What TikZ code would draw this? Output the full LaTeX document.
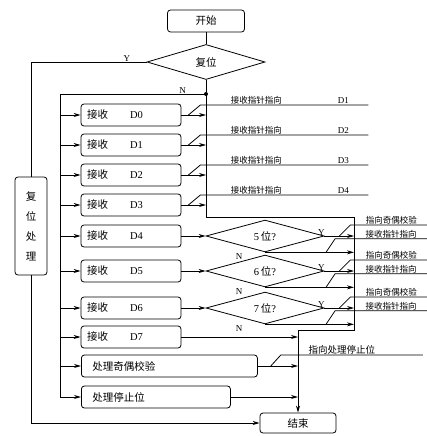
\documentclass[tikz,border=0pt]{standalone}
\usepackage{fontspec}
\setmainfont{Liberation Serif}
\newfontfamily\cjk{Noto Sans CJK SC}
\usetikzlibrary{shapes.geometric,arrows.meta}

\begin{document}
\begin{tikzpicture}[x=1pt,y=-1pt,line width=0.8pt,
    box/.style={draw,rounded corners=3pt,minimum height=22pt,inner sep=0pt,font=\fontsize{10.5}{12}\selectfont},
    dec/.style={draw,diamond,inner sep=0pt,minimum width=118pt,minimum height=29pt,font=\fontsize{10.5}{12}\selectfont},
    arr/.style={-{Stealth[length=7pt,width=4pt]}},
    lbl/.style={font=\cjk\fontsize{8.5}{10}\selectfont,inner sep=0.5pt,anchor=south},
    yn/.style={font=\fontsize{9}{10}\selectfont,inner sep=0.5pt}]

    \useasboundingbox (0,0) rectangle (427,436);

    \node[box,minimum width=77pt] (start) at (206,21) {\cjk 开始};
    \node[dec,minimum height=35pt] (rst) at (206,62) {\cjk 复位};
    \node[circle,fill,inner sep=0pt,minimum size=4pt] (dot) at (206,94) {};
    \draw (start) -- (rst);
    \draw (rst) -- (dot);

    \node[box,minimum width=32pt,minimum height=98pt,align=center,font=\cjk\fontsize{10.5}{20}\selectfont] (rproc) at (31,226) {复\\位\\处\\理};
    \node[box,minimum width=76pt,minimum height=20pt] (fin) at (298,423) {\cjk 结束};

    \draw (rst.west) -- node[yn,above,pos=0.17] (yr) {Y} (rproc.north |- rst.west) -- (rproc.north);
    \draw[arr] (rproc.south) |- (fin.west);

    % left bus
    \coordinate (lb) at (60,94);
    \draw (dot.center) -- node[yn,above,pos=0.16] (nr) {N} (lb);

    % right bus
    \coordinate (rb) at (206,217);
    \coordinate (rb2) at (354,217);
    \coordinate (rb3) at (354,330);
    \coordinate (rb4) at (298,330);
    \draw[arr] (dot.center) -- (rb) -- (rb2) -- (rb3) -| (fin.north);

    \foreach \i/\y in {0/115,1/145,2/175,3/205,4/236,5/271,6/308,7/337} {
        \node[box,minimum width=100pt,text width=88pt,align=left] (d\i) at (131,\y) {{\cjk 接收}\hspace{22pt}D\i};
        \draw[arr] (lb |- d\i.west) -- (d\i.west);
    }

    \foreach \i/\j in {0/1,1/2,2/3,3/4} {
        \draw[arr] (d\i.east) -- (d\i.east -| dot);
        \draw ([xshift=7pt]d\i.east) -- ++(12,-10) coordinate (s\i) -- ++(168,0) coordinate (t\i);
        \node[lbl] (p\i) at ([xshift=56pt]s\i) {接收指针指向};
        \node[yn,anchor=south,inner sep=1pt] (q\i) at ([xshift=-25pt]t\i) {D\j};
    }

    \foreach \i/\n/\y in {4/5/236,5/6/271,6/7/308} {
        \node[dec] (c\i) at (265,\y) {\n\,{\cjk 位}?};
        \draw[arr] (d\i.east) -- (c\i.west);
        \draw[arr] (c\i.east) -- (c\i.east -| rb2);
        \draw[arr] (c\i.south) -- (c\i.south -| rb2);
        \node[yn,anchor=south] (y\i) at ([xshift=-3pt]c\i.east) {Y};
        \node[yn] (n\i) at ([xshift=-26pt,yshift=-4pt]c\i.south) {N};
        \draw ([xshift=15pt]c\i.east) -- ++(11,-11) coordinate (ya\i) -- ++(77,0);
        \node[lbl] (py\i) at ([xshift=41pt]ya\i) {指向奇偶校验};
        \draw ([xshift=61pt]c\i.south) -- ++(9,-13.5) coordinate (na\i) -- ++(92,0);
        \node[lbl] (pn\i) at ([xshift=56pt]na\i) {接收指针指向};
    }
    \draw[arr] (d7.east) -- (d7.east -| rb4);

    \node[box,minimum width=176pt,text width=154pt,align=left,anchor=west] (par) at (81,366) {\cjk 处理奇偶校验};
    \node[box,minimum width=149pt,text width=127pt,align=left,anchor=west] (stp) at (81,397) {\cjk 处理停止位};
    \draw[arr] (lb |- par.west) -- (par.west);
    \draw[arr] (lb) |- (stp.west);
    \draw[arr] (par.east) -- (par.east -| rb4);
    \draw[arr] (stp.east) -- (stp.east -| rb4);
    \draw ([xshift=13pt]par.east) -- ++(10,-11) coordinate (pa) -- ++(142,0);
    \node[lbl,font=\cjk\fontsize{9.5}{11}\selectfont] (pp) at ([xshift=61pt]pa) {指向处理停止位};
\end{tikzpicture}
\end{document}
